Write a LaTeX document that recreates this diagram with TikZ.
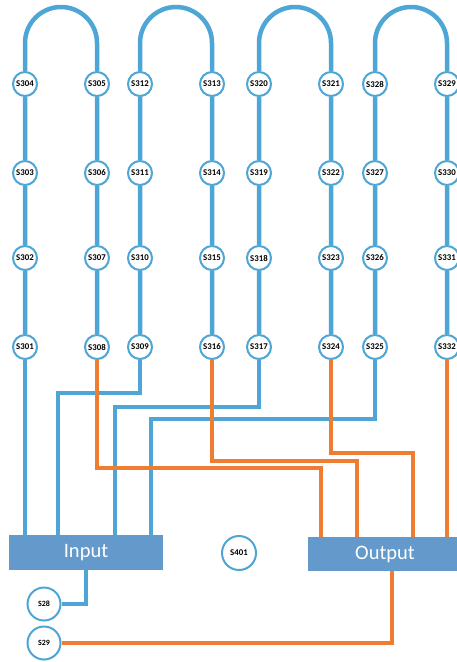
\documentclass[tikz,border=0pt]{standalone}
\usepackage{fontspec}
\setmainfont{Carlito}
\usetikzlibrary{backgrounds,shadows}
\definecolor{lblue}{HTML}{4DA6D6}
\definecolor{lorange}{HTML}{EE7D31}
\definecolor{boxblue}{HTML}{6399CB}
\tikzset{
  st/.style={circle, draw=lblue, line width=2pt, fill=white, minimum size=24pt, inner sep=0pt,
    font=\bfseries\fontsize{8.8}{10}\selectfont,
    drop shadow={shadow xshift=0.6pt, shadow yshift=-0.8pt, opacity=0.25, fill=black!60}},
  stbig/.style={st, minimum size=33pt, font=\bfseries\fontsize{8}{9}\selectfont},
  bl/.style={draw=lblue, line width=4.5pt},
  og/.style={draw=lorange, line width=4pt},
  iobox/.style={fill=boxblue, text=white, minimum width=154pt, minimum height=35pt,
    inner sep=0pt, font=\fontsize{20.5}{24}\selectfont}
}
\begin{document}
\begin{tikzpicture}[x=1pt, y=-1pt]
\useasboundingbox (0,0) rectangle (456,662);
% station nodes
\foreach \g/\xl/\xr in {0/25/97,1/140/212,2/259/331,3/375/447}{
  \foreach \i/\yy in {0/347,1/258,2/173,3/84}{
    \pgfmathtruncatemacro\nl{301+8*\g+\i}
    \pgfmathtruncatemacro\nr{308+8*\g-\i}
    \node[st] (s\nl) at (\xl,\yy) {S\nl};
    \node[st] (s\nr) at (\xr,\yy) {S\nr};
  }
}
\node[iobox] (input) at (86,552.5) {Input};
\node[iobox, minimum height=34pt] (output) at (385,554) {Output};
\node[stbig, minimum size=34pt, font=\bfseries\fontsize{8.8}{10}\selectfont] (s401) at (239,553) {S401};
\node[stbig] (s28) at (44,604) {S28};
\node[stbig] (s29) at (44,643) {S29};
% ports
\coordinate (in2) at (58,535);
\coordinate (in3) at (115,535);
\coordinate (in4) at (151,535);
\coordinate (out1) at (321,537);
\coordinate (out2) at (357,537);
\coordinate (out3) at (413,537);
\coordinate (ob) at (392,571);
\begin{scope}[on background layer]
  \draw[bl] (s301) -- (s302) -- (s303) -- (s304) -- (s304 |- 0,43)
    arc[start angle=180, end angle=360, radius=36] -- (s305) -- (s306) -- (s307) -- (s308);
  \draw[bl] (s309) -- (s310) -- (s311) -- (s312) -- (s312 |- 0,43)
    arc[start angle=180, end angle=360, radius=36] -- (s313) -- (s314) -- (s315) -- (s316);
  \draw[bl] (s317) -- (s318) -- (s319) -- (s320) -- (s320 |- 0,43)
    arc[start angle=180, end angle=360, radius=36] -- (s321) -- (s322) -- (s323) -- (s324);
  \draw[bl] (s325) -- (s326) -- (s327) -- (s328) -- (s328 |- 0,43)
    arc[start angle=180, end angle=360, radius=36] -- (s329) -- (s330) -- (s331) -- (s332);
  % to input
  \draw[bl] (s301) -- (s301 |- input.north);
  \draw[bl] (s309) -- (s309 |- 0,393) -| (in2);
  \draw[bl] (s317) -- (s317 |- 0,407) -| (in3);
  \draw[bl] (s325) -- (s325 |- 0,419) -| (in4);
  \draw[bl] (input.south) |- (s28);
  % to output
  \draw[og] (s308) -- (s308 |- 0,468) -| (out1);
  \draw[og] (s316) -- (s316 |- 0,461) -| (out2);
  \draw[og] (s324) -- (s324 |- 0,453) -| (out3);
  \draw[og] (s332) -- (s332 |- output.north);
  \draw[og] (ob) |- (s29);
\end{scope}
\end{tikzpicture}
\end{document}
